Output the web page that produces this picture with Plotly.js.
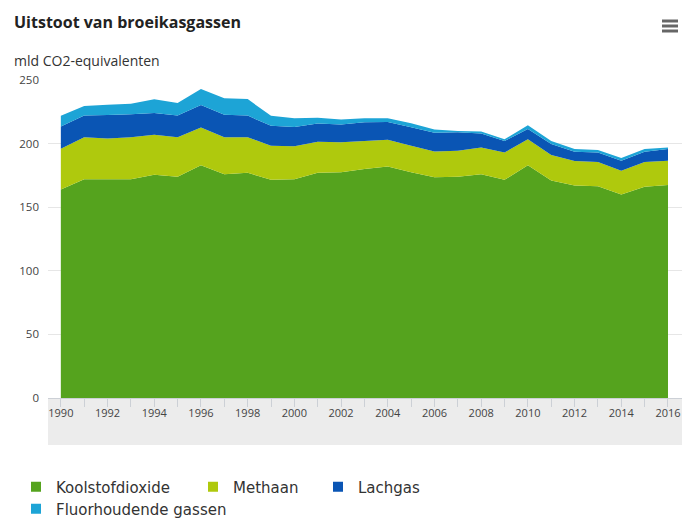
<!DOCTYPE html>
<html>
<head>
<meta charset="utf-8">
<script src="https://cdn.plot.ly/plotly-3.0.1.min.js"></script>
<style>html,body{margin:0;padding:0;background:#fff;}#chart{width:685px;height:530px;}</style>
</head>
<body>
<div id="chart"></div>
<script>
var years = [1990,1991,1992,1993,1994,1995,1996,1997,1998,1999,2000,2001,2002,2003,2004,2005,2006,2007,2008,2009,2010,2011,2012,2013,2014,2015,2016];
var koolstofdioxide = [164,172,172,172,175.5,174,183,176,177,171.5,172,177,177.5,180,182,177.5,173.5,174,176,171.5,183,171,167,166.5,160,166,167.5];
var methaan = [32,33,32,33,31.5,31,29.7,29,28,26.8,26,24.5,23.5,22,21,20.8,20.3,20.4,21,21.5,20.4,20,19.4,19,18.7,19.5,19];
var lachgas = [17.5,17,18.5,18,17,17,17.7,17.6,17,15.7,15,14.3,14,14.8,14,14.5,14.7,14.5,11,9,8,8.6,7.2,7.5,7.8,8.1,9.2];
var fluorhoudend = [8.3,7.6,8,8.4,10.8,10,12.6,13,13,7.8,7,4.5,4,3.2,3,3.2,2.5,1.1,1.5,1.4,3,2.5,2.1,2,2.1,2.1,1.3];
var seriesNames = ['Koolstofdioxide','Methaan','Lachgas','Fluorhoudende gassen'];
var seriesData = [koolstofdioxide, methaan, lachgas, fluorhoudend];
var colors = ['#55a31e','#afc90d','#0a55b4','#1da4d6'];
var yTicks = [0,50,100,150,200,250];

var W = 685, H = 530;
var M = {l:48, r:3, t:80, b:132};
var pw = W - M.l - M.r, ph = H - M.t - M.b;
function px(x){ return (x - M.l) / pw; }
function py(y){ return (H - M.b - y) / ph; }

var traces = [];
seriesData.forEach(function(vals, i){
  traces.push({
    x: years, y: vals, type: 'scatter', mode: 'none', stackgroup: 'one',
    fillcolor: colors[i], name: seriesNames[i], showlegend: false, hoverinfo: 'skip'
  });
});
var legendIds = ['legend','legend2','legend3','legend4'];
seriesNames.forEach(function(n, i){
  traces.push({
    x: [null], y: [null], type: 'scatter', mode: 'markers', name: n,
    marker: {symbol: 'square', size: 10, color: colors[i]},
    legend: legendIds[i], showlegend: true, hoverinfo: 'skip'
  });
});

var legPos = [[16, 487], [193, 487], [318, 487], [16, 509]];
function leg(i){
  return {
    x: legPos[i][0] / W, y: 1 - legPos[i][1] / H, xref: 'container', yref: 'container',
    xanchor: 'left', yanchor: 'middle', orientation: 'h', bgcolor: 'rgba(0,0,0,0)',
    font: {family: 'DejaVu Sans', size: 15, color: '#333'}, itemclick: false
  };
}

var hamburger = [21, 26, 31].map(function(y){
  return {type: 'line', xref: 'paper', yref: 'paper', x0: px(662), x1: px(678), y0: py(y), y1: py(y),
          line: {color: '#666', width: 3}};
});

var layout = {
  width: W, height: H, margin: M,
  paper_bgcolor: '#fff', plot_bgcolor: '#fff',
  title: {text: 'Uitstoot van broeikasgassen', x: 14 / W, xanchor: 'left', xref: 'container',
          y: 1 - 22 / H, yanchor: 'middle', yref: 'container',
          font: {family: 'Open Sans', size: 16, weight: 700, color: '#222'}},
  xaxis: {range: [1989.45, 2016.6], tickmode: 'linear', tick0: 1990, dtick: 2,
          ticks: 'outside', ticklen: 8, tickcolor: '#ccd0d6', showgrid: false, zeroline: false,
          showline: true, linecolor: '#ccd0d6', linewidth: 1, ticklabelstandoff: -3,
          minor: {dtick: 1, ticks: 'outside', ticklen: 8, tickcolor: '#ccd0d6', showgrid: false},
          tickfont: {family: 'Open Sans', size: 11, color: '#444'}, fixedrange: true},
  yaxis: {range: [0, 250], tickvals: yTicks, ticktext: yTicks.map(String), showgrid: true,
          gridcolor: '#e6e6e6', zeroline: false, showline: false, ticks: '', ticklabelstandoff: 8,
          tickfont: {family: 'Open Sans', size: 11.5, color: '#444'}, fixedrange: true},
  shapes: [{type: 'rect', xref: 'paper', yref: 'paper', x0: 0, x1: 1, y0: py(445), y1: py(399),
            fillcolor: '#ececec', line: {width: 0}, layer: 'below'}].concat(hamburger),
  annotations: [{text: 'mld CO2-equivalenten', xref: 'paper', yref: 'paper', x: px(12), y: py(60),
                 xanchor: 'left', yanchor: 'middle', showarrow: false,
                 font: {family: 'Open Sans', size: 14, color: '#333'}}],
  legend: leg(0), legend2: leg(1), legend3: leg(2), legend4: leg(3),
  hovermode: false
};

Plotly.newPlot('chart', traces, layout, {displayModeBar: false, staticPlot: true});
</script>
</body>
</html>
